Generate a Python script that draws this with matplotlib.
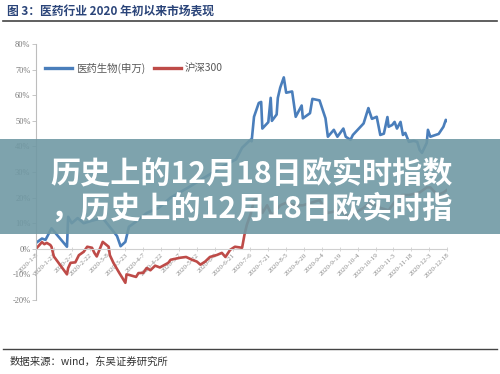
import matplotlib
matplotlib.use('Agg')
import matplotlib.pyplot as plt
import pandas as pd

plt.rcParams['font.family'] = ['Noto Sans CJK SC', 'DejaVu Sans']

# 医药生物(申万) - cumulative return (%)
med_dates = ['2020-01-08', '2020-01-13', '2020-01-16', '2020-01-21', '2020-02-03', '2020-02-04',
             '2020-02-07', '2020-02-12', '2020-02-17', '2020-02-24', '2020-03-04', '2020-03-16',
             '2020-03-19', '2020-03-23', '2020-03-26', '2020-04-03', '2020-04-10', '2020-04-20',
             '2020-04-30', '2020-05-15', '2020-05-29', '2020-06-12', '2020-06-24', '2020-06-29',
             '2020-07-06', '2020-07-07', '2020-07-09', '2020-07-13', '2020-07-15', '2020-07-16',
             '2020-07-20', '2020-07-21', '2020-07-23', '2020-07-24', '2020-07-28', '2020-07-29',
             '2020-07-31', '2020-08-03', '2020-08-05', '2020-08-10', '2020-08-13', '2020-08-18',
             '2020-08-19', '2020-08-25', '2020-08-27', '2020-09-02', '2020-09-07', '2020-09-09',
             '2020-09-14', '2020-09-17', '2020-09-22', '2020-09-24', '2020-09-28', '2020-09-30',
             '2020-10-09', '2020-10-13', '2020-10-14', '2020-10-16', '2020-10-20', '2020-10-23',
             '2020-10-26', '2020-10-29', '2020-10-30', '2020-11-02', '2020-11-04', '2020-11-06',
             '2020-11-09', '2020-11-11', '2020-11-13', '2020-11-16', '2020-11-20', '2020-11-23',
             '2020-11-25', '2020-11-27', '2020-12-01', '2020-12-02', '2020-12-04', '2020-12-11',
             '2020-12-14', '2020-12-15', '2020-12-17', '2020-12-18']
med_vals = [2.3, 4.0, 3.5, 8.0, 0.8, 12.5,
            10.0, 12.0, 10.0, 11.0, 12.0, 5.0,
            1.0, 2.7, 8.6, 11.3, 14.0, 16.0,
            20.0, 24.0, 28.0, 32.0, 35.0, 39.5,
            42.6, 42.0, 51.6, 57.0, 57.4, 47.0,
            49.0, 49.5, 59.0, 50.0, 52.5, 59.0,
            63.0, 67.0, 61.0, 61.5, 51.6, 56.0,
            51.0, 53.0, 58.6, 58.0, 51.0, 43.8,
            46.5, 43.8, 47.0, 43.8, 42.6, 44.5,
            49.0, 55.0, 53.5, 50.8, 51.6, 44.5,
            45.0, 51.5, 47.7, 48.4, 49.6, 47.0,
            49.6, 44.5, 45.3, 41.8, 42.2, 41.8,
            38.7, 37.5, 41.4, 46.5, 43.8, 44.9,
            47.0, 47.7, 50.4, 50.0]

# 沪深300 - cumulative return (%)
hs_dates = ['2020-01-08', '2020-01-13', '2020-01-15', '2020-01-17', '2020-01-20', '2020-01-21',
            '2020-01-23', '2020-02-03', '2020-02-04', '2020-02-06', '2020-02-10', '2020-02-13',
            '2020-02-17', '2020-02-20', '2020-02-24', '2020-02-26', '2020-02-28', '2020-03-04',
            '2020-03-09', '2020-03-10', '2020-03-13', '2020-03-18', '2020-03-20', '2020-03-23',
            '2020-03-24', '2020-03-26', '2020-04-01', '2020-04-03', '2020-04-07', '2020-04-10',
            '2020-04-13', '2020-04-17', '2020-04-21', '2020-04-28', '2020-04-30', '2020-05-08',
            '2020-05-13', '2020-05-18', '2020-05-22', '2020-05-25', '2020-05-29', '2020-06-02',
            '2020-06-08', '2020-06-12', '2020-06-15', '2020-06-19', '2020-06-23', '2020-06-29',
            '2020-07-01', '2020-07-03', '2020-07-06', '2020-07-07', '2020-07-09', '2020-07-13',
            '2020-07-16', '2020-07-20', '2020-07-24', '2020-07-31', '2020-08-05', '2020-08-12',
            '2020-08-19', '2020-08-26', '2020-09-02', '2020-09-09', '2020-09-18', '2020-09-25',
            '2020-09-30', '2020-10-09', '2020-10-14', '2020-10-23', '2020-10-30', '2020-11-05',
            '2020-11-10', '2020-11-16', '2020-11-25', '2020-12-01', '2020-12-04', '2020-12-10',
            '2020-12-15', '2020-12-18']
hs_vals = [0.0, 2.6, 1.8, 2.3, 1.5, 0.8,
           -3.0, -10.0, -7.5, -5.5, -5.3, -2.5,
           -1.2, 0.8, 0.4, -1.6, -3.0, 2.7,
           0.8, -2.5, -5.5, -9.5, -11.0, -13.3,
           -10.0, -10.2, -11.0, -9.5, -9.4, -7.5,
           -8.4, -6.6, -7.3, -5.5, -4.3, -3.5,
           -3.2, -4.3, -5.0, -6.2, -5.0, -3.2,
           -2.4, -1.6, -3.2, -0.4, 0.8, 0.4,
           5.5, 9.4, 13.3, 15.0, 19.0, 20.0,
           14.0, 17.0, 13.0, 17.0, 18.0, 17.0,
           17.0, 18.0, 19.0, 14.0, 15.0, 13.0,
           13.5, 16.0, 18.0, 16.0, 15.0, 19.0,
           21.0, 21.0, 22.0, 24.0, 24.0, 21.0,
           22.0, 23.0]

tick_dates = pd.date_range('2020-01-08', '2020-12-18', freq='15D')
tick_labels = [f'{d.year}-{d.month}-{d.day}' for d in tick_dates]
y_ticks = [-20, -10, 0, 10, 20, 30, 40, 50, 60, 70, 80]

fig = plt.figure(figsize=(5, 3.74), dpi=100)
ax = fig.add_axes([0.072, 0.198, 0.822, 0.684])

ax.plot(pd.to_datetime(med_dates), med_vals, color='#4a7ebb', lw=1.9, label='医药生物(申万)')
ax.plot(pd.to_datetime(hs_dates), hs_vals, color='#be4b48', lw=1.9, label='沪深300')

ax.set_ylim(-20, 80)
ax.set_xlim(tick_dates[0], tick_dates[-1])
ax.set_yticks(y_ticks)
ax.set_yticklabels([f'{v}%' for v in y_ticks])
ax.set_xticks(tick_dates)
ax.set_xticklabels(tick_labels)
for s in ['top', 'right']:
    ax.spines[s].set_visible(False)
ax.spines['bottom'].set_position(('data', 0))
ax.spines['bottom'].set_color('#d0d0d0')
ax.spines['left'].set_color('#bdbdbd')
ax.tick_params(axis='y', length=3, width=0.6, color='#bdbdbd', pad=1,
               labelsize=6, labelcolor='#777777')
ax.tick_params(axis='x', length=3, width=0.6, color='#d0d0d0', direction='inout', pad=1,
               labelsize=5, labelcolor='#888888', labelrotation=45)
for t in ax.get_yticklabels():
    t.set_family('Liberation Serif')
for t in ax.get_xticklabels():
    t.set_family('Liberation Serif')
    t.set_ha('right')
    t.set_rotation_mode('anchor')

leg = ax.legend(loc='upper left', bbox_to_anchor=(0.0, 0.965), ncol=2, frameon=False,
                fontsize=7.5, handlelength=2.6, columnspacing=0.9, handletextpad=0.3)
for t in leg.get_texts():
    t.set_color('#595959')
for h in leg.get_lines():
    h.set_linewidth(2.4)

# header and footer
fig.text(0.014, 0.967, '图 3：医药行业 2020 年初以来市场表现', fontsize=8.5, weight='bold',
         color='#2a4479', va='center', ha='left')
fig.add_artist(plt.Line2D([0.006, 0.994], [0.945, 0.945], color='#444444', lw=1.2))
fig.add_artist(plt.Line2D([0.006, 0.994], [0.068, 0.068], color='#444444', lw=1.0))
fig.text(0.02, 0.032, '数据来源：wind，东吴证券研究所', fontsize=7.5, color='#333333',
         va='center', ha='left')

# overlay banner
fig.add_artist(plt.Rectangle((0, 0.374), 1, 0.254, transform=fig.transFigure,
                             color='#7099a4', alpha=0.9, lw=0))
fig.text(0.1, 0.537, '历史上的12月18日欧实时指数', fontsize=21.7, weight='bold', color='white',
         va='center', ha='left')
fig.text(0.1, 0.443, '，历史上的12月18日欧实时指', fontsize=21.7, weight='bold', color='white',
         va='center', ha='left')

fig.savefig('out.png', dpi=100)
